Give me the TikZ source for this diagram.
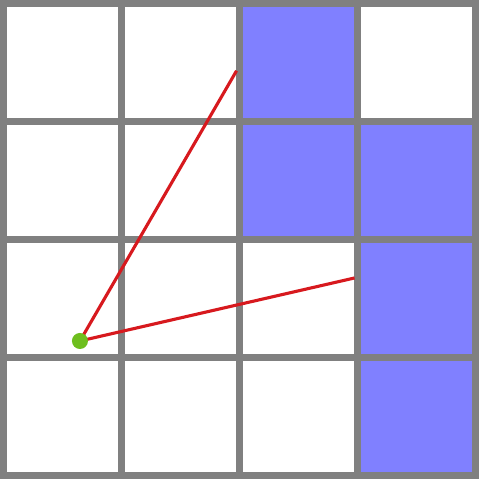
\documentclass[tikz,border=0pt]{standalone}
\usepackage{xcolor}
\usepackage{tikz}
\definecolor{gridgray}{RGB}{128, 128, 128}
\definecolor{cellblue}{RGB}{128, 128, 255}
\definecolor{rayred}{RGB}{215, 25, 30}
\definecolor{pointgreen}{RGB}{110, 190, 30}

\begin{document}
\begin{tikzpicture}[line cap=rect]
  \useasboundingbox (-0.0297,-0.0297) rectangle (4.0297,4.0297);
  % Filled cells
  \foreach \c/\r in {2/3, 2/2, 3/2, 3/1, 3/0}
    \fill[cellblue] (\c,\r) rectangle ++(1,1);

  % Grid
  \draw[gridgray, line width=1.69pt] (0,0) grid (4,4);

  % Rays from the point
  \coordinate (P) at (0.648, 1.14);
  \coordinate (A) at (1.975, 3.43);
  \coordinate (B) at (2.975, 1.674);
  \draw[rayred, line width=0.75pt, line cap=butt] (P) -- (A);
  \draw[rayred, line width=0.75pt, line cap=butt] (P) -- (B);

  % Point
  \fill[pointgreen] (P) circle (0.068);
\end{tikzpicture}
\end{document}
